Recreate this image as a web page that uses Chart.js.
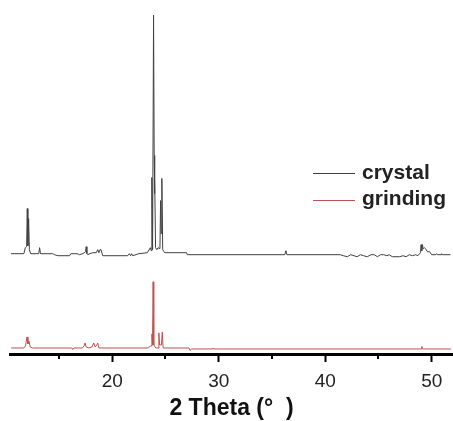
<!DOCTYPE html>
<html><head><meta charset="utf-8">
<script src="https://cdn.jsdelivr.net/npm/chart.js@4.4.1/dist/chart.umd.min.js"></script>
<style>html,body{margin:0;padding:0;background:#fff;overflow:hidden}#wrap{width:453px;height:421px;position:relative}</style>
</head><body><div id="wrap"><canvas id="c" width="453" height="421"></canvas></div>
<script>
const seriesNames = ['crystal', 'grinding'];
const seriesColors = ['#404040', '#c0504d'];
const crystalOffset = 101;
const grindingOffset = 7;
const majorTicks = [20, 30, 40, 50];
const minorTicks = [15, 25, 35, 45];

const crystalTheta = [10.5,11.7,11.84,11.96,12.02,12.08,12.15,12.22,12.34,13.1,13.18,13.26,14.4,14.59,14.9,16.0,16.11,16.7,16.93,17.24,17.5,17.55,17.62,17.71,17.9,18.17,18.5,18.64,18.75,18.85,18.95,19.11,21.45,21.6,21.73,21.82,21.92,22.5,23.3,23.58,23.66,23.72,23.79,23.88,23.94,23.97,24.0,24.07,24.19,24.3,24.48,24.54,24.6,24.66,24.74,24.92,26.98,27.05,36.2,36.31,36.4,41.4,41.7,42.08,42.4,42.7,43.0,43.3,43.6,43.95,44.3,44.6,44.9,45.2,45.5,45.8,46.0,46.3,47.0,47.3,47.6,47.9,48.2,48.5,48.7,48.95,49.0,49.07,49.13,49.2,49.3,49.42,49.6,49.8,50.0,50.4,50.47,50.55,50.9,50.94,51.0,51.76];
const crystalIntensity = [0,0,6,7,45,8,35,4,0,0,6,0,0,-1,-2,-2,0,0,-1,0,2,7,0,-1,0,1,1,4,1,4,4,-2,-2,0,-2,0,-2,0,1,6,3,76,4,238,98,60,76,6,4,6,5,53,20,75,4,1,1,-1,-1,3,-1,-1,-2,-3,-1,-2,-3,-1,-2,-3,-1,-1,-3,-1,-1,-2,-1,-3,-3,-2,-3,-1,-2,-1,-2,1,9,3,9,5,6,5,2,2,-1,-1,0,-1,-1,0,-1,-1];

const grindingTheta = [10.5,11.7,11.85,12.0,12.08,12.18,12.3,12.5,16.2,16.3,16.4,17.2,17.35,17.45,17.55,17.8,18.1,18.27,18.4,18.55,18.64,18.75,23.4,23.58,23.68,23.73,23.78,23.84,23.9,24.1,24.3,24.38,24.45,24.62,24.7,24.78,27.2,27.3,27.45,29.4,29.46,29.52,49.0,49.07,49.15,51.8];
const grindingIntensity = [0,0,2,11,4,7,1,0,0,-1.5,0,0,2,5,1,0,1,5,1,3,5,0,0,2,2,14,3,66,3,0,0,15,3,3,16,0,0,-2.5,-1,-1,0,-1,-1,1.5,-1,-1];

function toPoints(theta, inten, off) {
  return theta.map((t, i) => ({x: t, y: inten[i] + off}));
}

const minorTickPlugin = {
  id: 'minorTicks',
  afterDraw(chart) {
    const s = chart.scales.x, ctx = chart.ctx;
    ctx.save();
    ctx.strokeStyle = '#000';
    ctx.lineWidth = 2;
    minorTicks.forEach(v => {
      const px = Math.round(s.getPixelForValue(v));
      ctx.beginPath();
      ctx.moveTo(px, s.top);
      ctx.lineTo(px, s.top + 4);
      ctx.stroke();
    });
    ctx.restore();
  }
};

const legendPlugin = {
  id: 'customLegend',
  afterDraw(chart) {
    const ctx = chart.ctx;
    ctx.save();
    ctx.font = 'bold 21px "Liberation Sans", Arial, sans-serif';
    ctx.textBaseline = 'alphabetic';
    chart.data.datasets.forEach((ds, i) => {
      const ly = 173.5 + i * 27;
      ctx.strokeStyle = ds.borderColor;
      ctx.lineWidth = 1;
      ctx.beginPath();
      ctx.moveTo(313, ly);
      ctx.lineTo(355, ly);
      ctx.stroke();
      ctx.fillStyle = '#222';
      ctx.fillText(ds.label, 362, 179 + i * 26);
    });
    ctx.restore();
  }
};

new Chart(document.getElementById('c'), {
  type: 'scatter',
  data: {
    datasets: [
      {label: seriesNames[0], data: toPoints(crystalTheta, crystalIntensity, crystalOffset), borderColor: seriesColors[0], showLine: true, borderWidth: 1, pointRadius: 0, tension: 0},
      {label: seriesNames[1], data: toPoints(grindingTheta, grindingIntensity, grindingOffset), borderColor: seriesColors[1], showLine: true, borderWidth: 1, pointRadius: 0, tension: 0}
    ]
  },
  options: {
    responsive: false,
    animation: false,
    devicePixelRatio: 1,
    layout: {padding: {left: 10, right: 0, top: 14, bottom: 1}},
    plugins: {legend: {display: false}, tooltip: {enabled: false}},
    scales: {
      x: {
        type: 'linear', min: 10.4, max: 52,
        afterBuildTicks: s => { s.ticks = majorTicks.map(v => ({value: v})); },
        ticks: {color: '#222', font: {family: '"Liberation Sans", Arial, sans-serif', size: 19, lineHeight: 1}, padding: 10, maxRotation: 0, autoSkip: false, callback: v => String(v)},
        grid: {display: true, drawOnChartArea: false, drawTicks: true, tickLength: 7, tickWidth: 2, tickColor: '#000'},
        border: {display: true, color: '#000', width: 3},
        title: {display: true, text: '2 Theta (°  )', color: '#111', font: {family: '"Liberation Sans", Arial, sans-serif', size: 23, weight: 'bold', lineHeight: 0.696}, padding: {top: 0, bottom: 3}}
      },
      y: {display: false, min: 0, max: 340}
    }
  },
  plugins: [minorTickPlugin, legendPlugin]
});
</script>
</body></html>
